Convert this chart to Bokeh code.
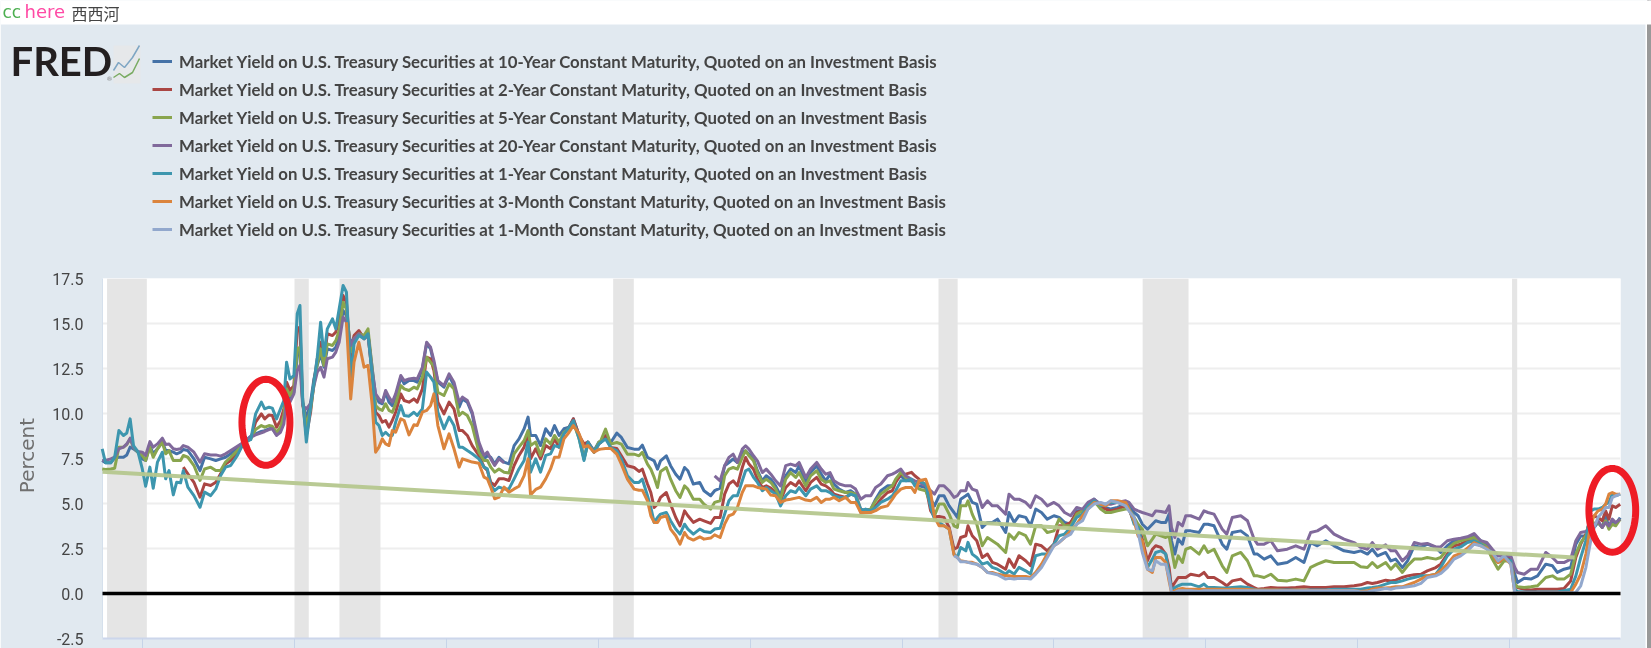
import numpy as np
from bokeh.embed import file_html
from bokeh.resources import INLINE
from bokeh.plotting import figure
from bokeh.models import (Range1d, FixedTicker, NumeralTickFormatter, Legend, LegendItem, Label,
                          BoxAnnotation, PolyAnnotation)

# ---------- data ----------
dates_a = [1973.67,1973.78,1973.95,1974.08,1974.22,1974.37,1974.48,1974.59,1974.70,1974.85,1974.99,1975.10,1975.24,1975.35,1975.49,1975.65,1975.76,1975.87,1976.01,1976.12,1976.25,1976.34,1976.49,1976.69,1976.89,1977.04,1977.24,1977.41,1977.57,1977.73,1977.90,1978.12,1978.34,1978.56,1978.72,1978.91,1979.02,1979.16,1979.27,1979.41,1979.54,1979.65,1979.74,1979.85,1979.98,1980.09,1980.18,1980.27,1980.39,1980.53,1980.64,1980.75,1980.86,1980.97,1981.08,1981.25,1981.36,1981.47,1981.60,1981.71]
y10_a = [7.39,7.26,7.26,7.52,7.57,7.57,7.70,8.13,8.04,7.85,7.48,7.39,8.22,7.76,8.04,8.41,7.94,7.94,7.85,7.76,7.85,8.0,7.94,7.48,6.83,7.57,7.48,7.39,7.48,7.57,7.76,8.13,8.41,8.74,8.87,9.0,9.05,9.15,9.18,8.81,9.15,9.7,11.0,10.81,11.18,13.22,13.5,10.63,9.7,10.63,11.92,12.67,13.31,12.57,13.59,13.5,13.68,14.24,15.72,15.44]
y2_a = [None]*21 + [7.02,6.65,6.18,5.35,6.09,6.0,6.18,6.65,7.2,7.39,7.76,8.41,8.59,9.52,9.98,9.70,9.92,9.89,9.24,9.61,10.26,11.74,11.28,11.55,14.70,14.80,10.63,8.78,10.07,11.74,13.04,13.96,12.85,14.43,14.33,14.52,15.26,16.55,16.18]
y5_a = [6.92,6.89,6.92,6.96,8.13,8.13,8.28,8.59,8.13,7.85,7.67,7.39,8.13,7.57,8.04,8.41,7.76,7.94,7.39,7.39,7.39,7.67,7.57,7.11,6.28,6.92,7.02,6.83,6.83,7.30,7.57,7.94,8.31,8.59,9.11,9.33,9.24,9.33,9.29,8.96,9.24,9.89,11.37,11.0,11.37,13.59,13.68,10.54,9.33,10.26,11.55,12.76,13.59,12.67,13.87,13.78,14.05,14.61,16.18,15.81]
y20_a = [7.39,7.39,7.48,7.57,8.04,8.13,8.31,8.63,8.13,7.89,7.85,7.67,8.44,8.13,8.31,8.63,8.28,8.31,8.04,8.0,8.04,8.22,8.13,7.85,7.30,7.76,7.70,7.70,7.63,7.76,7.94,8.18,8.41,8.68,8.81,8.92,9.0,9.11,9.15,8.78,8.96,9.42,10.72,10.63,11.09,12.39,12.67,10.44,10.26,10.54,11.55,12.30,12.57,12.02,13.04,13.13,13.41,13.96,15.35,15.07]
y1_a = [8.04,7.26,7.26,7.57,9.05,8.78,8.92,9.70,8.22,7.85,6.92,5.96,7.02,5.85,7.30,7.85,6.37,6.83,5.48,6.18,6.15,6.83,5.91,5.44,4.79,5.63,5.44,5.81,6.55,7.02,7.11,7.67,8.41,8.55,9.98,10.63,10.26,10.35,10.30,9.70,10.26,10.72,12.85,11.92,12.11,15.54,16.0,10.81,8.41,10.35,11.74,13.13,15.07,13.22,14.70,15.26,14.70,15.81,17.11,16.74]
y3m_a = [None]*59 + [15.07]
y1m_a = [None]*60

dates_b = [1981.85,1981.96,1982.12,1982.29,1982.42,1982.56,1982.67,1982.78,1982.89,1983.00,1983.11,1983.22,1983.33,1983.50,1983.61,1983.77,1983.93,1984.04,1984.21,1984.35,1984.48,1984.59,1984.72,1984.92,1985.09,1985.25,1985.42,1985.53,1985.69,1985.85,1986.07,1986.24,1986.35,1986.46,1986.59,1986.73,1986.90,1987.06,1987.23,1987.39,1987.56,1987.69,1987.77,1987.94,1988.10,1988.27,1988.43,1988.56,1988.71,1988.87,1989.04,1989.18,1989.37,1989.53,1989.66,1989.86,1990.02]
y10_b = [13.78,14.24,14.52,14.24,14.43,12.48,11.0,10.63,10.54,11.18,10.63,10.44,10.91,12.02,11.65,11.83,11.83,11.74,12.48,13.87,13.59,12.76,11.74,11.46,12.11,11.55,10.35,10.81,10.63,9.98,8.04,7.48,7.67,7.57,7.20,7.57,7.30,7.20,8.22,8.59,9.15,9.80,8.78,8.78,8.22,9.15,8.78,9.33,8.78,9.15,9.24,9.70,8.78,7.48,8.41,7.94,8.41]
y2_b = [13.04,14.33,14.61,14.15,14.43,12.11,10.07,9.89,9.52,9.61,9.24,9.61,10.07,11.09,10.72,10.63,10.81,10.63,11.37,13.13,13.04,12.39,10.63,9.98,10.63,10.26,9.05,9.05,8.78,8.22,7.67,7.02,6.83,6.18,6.0,6.37,6.37,6.28,7.11,7.67,8.13,8.96,7.48,8.04,7.48,8.22,8.04,8.59,8.13,8.87,9.24,9.70,8.78,8.31,8.41,7.85,8.31]
y5_b = [13.41,14.15,14.43,14.33,14.70,12.48,10.44,10.26,10.17,10.54,10.17,10.07,10.54,11.55,11.37,11.28,11.46,11.37,12.02,13.13,12.85,12.63,11.18,11.0,11.65,11.37,9.89,10.07,9.89,9.33,7.85,7.39,7.39,7.02,6.74,6.92,6.74,6.70,7.76,8.13,8.50,9.05,8.22,8.41,7.67,8.59,8.31,8.78,8.41,8.96,9.15,9.52,8.59,7.48,8.31,7.85,8.41]
y20_b = [13.78,14.15,14.43,14.15,14.33,12.30,11.09,10.81,10.63,11.28,10.91,10.63,11.09,12.11,11.83,11.92,11.96,11.92,12.57,13.96,13.68,12.94,11.83,11.55,12.2,11.74,10.63,10.91,10.72,10.07,8.41,7.67,7.85,7.48,7.11,7.48,7.26] + [None]*20
y1_b = [11.92,13.87,14.33,14.15,14.43,12.11,9.52,9.33,8.78,8.96,8.78,8.78,9.52,10.44,9.89,9.85,10.07,9.89,10.26,12.30,12.02,11.74,10.07,9.15,9.80,9.33,8.13,8.13,7.94,7.76,7.48,7.02,6.92,6.0,5.72,5.91,5.81,5.81,6.37,6.92,7.39,8.41,6.74,7.48,6.74,7.67,7.76,8.22,8.13,8.87,9.24,9.61,8.59,7.39,8.41,7.85,8.31]
y3m_b = [10.81,12.85,13.96,12.57,12.67,10.44,7.85,8.13,8.59,8.31,8.22,9.05,8.96,9.70,9.61,8.81,9.37,9.33,10.07,10.17,10.44,11.09,9.33,8.04,8.87,8.04,7.02,7.48,7.39,7.30,7.24,6.46,6.37,5.91,5.26,5.35,5.91,5.63,5.81,5.96,6.55,7.48,5.48,5.78,5.91,6.37,6.92,7.57,7.57,8.59,8.96,9.33,8.87,8.13,8.22,7.85,8.0]
y1m_b = [None]*57

dates_c = [1990.08,1990.24,1990.41,1990.61,1990.76,1990.96,1991.18,1991.34,1991.45,1991.62,1991.73,1991.84,1991.95,1992.05,1992.24,1992.38,1992.55,1992.69,1992.84,1992.95,1993.13,1993.34,1993.48,1993.70,1993.83,1994.01,1994.16,1994.30,1994.44,1994.58,1994.74,1994.85,1994.96,1995.11,1995.24,1995.40,1995.53,1995.68,1995.84,1996.00,1996.17,1996.33,1996.50,1996.61,1996.83,1996.99,1997.19,1997.34,1997.49,1997.63,1997.76,1997.93,1998.14]
y10_c = [8.39,8.76,8.39,8.91,8.67,8.11,8.02,8.02,8.24,7.56,7.47,7.37,6.91,7.37,7.65,7.10,6.63,6.35,7.0,6.82,6.08,6.17,5.71,5.43,5.71,5.85,7.10,7.28,7.47,7.28,7.84,7.93,7.74,7.47,6.82,6.26,6.54,6.35,5.98,5.43,6.54,6.91,6.72,7.10,6.17,6.72,7.10,6.63,6.26,6.63,6.08,5.80,5.61]
y2_c = [8.39,8.76,8.11,8.06,7.65,7.10,7.0,6.78,6.91,6.08,5.61,4.78,4.96,5.34,5.61,4.96,4.22,3.76,4.59,4.32,3.95,4.13,4.04,3.89,4.22,4.22,5.52,6.08,6.26,5.98,7.0,7.56,7.19,6.91,6.35,5.89,5.98,5.85,5.61,5.15,5.89,6.17,5.98,6.26,5.71,6.17,6.45,6.08,5.98,5.80,5.52,5.43,5.34]
y5_c = [8.48,9.13,8.3,8.39,8.3,7.74,7.74,7.65,7.84,7.19,6.91,6.45,5.89,6.78,7.0,6.35,5.71,5.34,5.98,5.8,5.24,5.24,4.96,4.69,5.06,5.15,6.54,6.91,7.0,6.91,7.56,7.93,7.65,7.37,6.72,6.17,6.35,6.17,5.8,5.24,6.35,6.72,6.45,6.72,5.98,6.54,6.82,6.35,6.17,6.26,5.8,5.71,5.61]
y20_c = [None]*24 + [6.54,6.26,7.10,7.56,7.74,7.28,8.02,8.21,8.02,7.65,7.37,6.72,6.91,6.63,6.26,5.98,7.10,7.19,7.10,7.28,6.45,6.91,7.28,6.91,6.63,6.72,6.26,6.08,5.98]
y1_c = [8.39,8.58,8.11,7.93,7.47,6.54,6.17,6.17,6.35,5.43,4.78,3.95,4.22,4.41,4.5,4.04,3.58,3.3,3.85,3.58,3.3,3.58,3.45,3.39,3.58,3.63,4.41,5.15,5.43,5.43,6.26,6.82,6.91,6.45,6.17,5.71,5.89,5.71,5.52,4.87,5.43,5.71,5.61,5.89,5.43,5.8,5.98,5.71,5.71,5.61,5.43,5.34,5.34]
y3m_c = [8.02,8.06,8.06,7.74,7.19,6.35,5.8,5.74,5.74,5.15,4.32,3.95,3.95,4.22,4.32,3.58,3.21,2.74,3.39,3.11,2.97,3.15,3.02,3.08,3.26,3.11,3.85,4.32,4.41,4.78,5.61,5.98,5.98,5.98,5.89,5.85,5.8,5.47,5.43,5.06,5.19,5.24,5.3,5.34,5.19,5.15,5.34,5.06,5.24,5.24,5.34,5.15,5.34]
y1m_c = [None]*53

dates_d = [1998.31,1998.47,1998.64,1998.80,1998.97,1999.13,1999.30,1999.52,1999.68,1999.79,1999.96,2000.12,2000.31,2000.42,2000.56,2000.78,2000.94,2001.07,2001.22,2001.38,2001.55,2001.71,2001.82,2001.93,2002.10,2002.17,2002.31,2002.46,2002.64,2002.81,2002.97,2003.14,2003.41,2003.52,2003.69,2003.85,2004.07,2004.23,2004.40,2004.59,2004.78,2005.00,2005.17,2005.35,2005.55,2005.75,2005.94,2006.12,2006.32]
y10_d = [5.71,5.52,4.69,4.6,4.69,5.24,5.71,5.98,5.98,6.26,6.54,6.26,6.26,6.08,5.98,5.89,5.24,4.87,5.43,5.43,4.87,4.5,4.23,5.24,5.43,5.52,5.06,4.97,3.67,3.95,3.95,4.13,3.39,4.5,3.95,4.32,4.23,3.76,4.69,4.5,4.13,4.32,4.23,3.95,3.85,4.6,4.6,4.87,5.24]
y2_d = [5.52,5.43,4.5,4.6,4.69,4.87,5.24,5.61,5.71,6.17,6.63,6.63,6.73,6.54,6.35,5.98,4.6,4.26,4.28,4.23,3.67,2.47,2.56,3.11,3.21,3.76,3.21,2.93,2.0,2.19,1.73,1.63,1.35,1.91,1.45,2.1,1.82,1.54,2.74,2.65,2.37,2.74,3.76,3.76,3.95,4.5,4.6,4.87,5.15]
y5_d = [5.61,5.52,4.6,4.6,4.69,5.15,5.52,5.8,5.98,6.35,6.73,6.45,6.26,6.08,5.8,5.71,4.97,4.32,4.97,4.97,4.41,3.76,3.67,4.87,4.87,5.15,4.41,3.85,2.65,3.11,2.93,2.74,2.28,3.3,3.02,3.39,3.21,2.74,3.76,3.76,3.39,3.48,4.13,3.76,3.76,4.41,4.6,4.87,5.15]
y20_d = [5.98,5.8,5.24,5.43,5.43,5.89,6.08,6.54,6.63,6.73,6.91,6.54,6.35,6.26,6.17,5.98,5.71,5.52,5.98,5.98,5.71,5.34,5.43,5.71,5.71,6.17,5.8,5.71,4.78,5.15,4.87,4.87,4.41,5.52,5.24,5.24,5.06,4.78,5.43,5.24,4.87,5.06,4.87,4.5,4.32,4.78,4.69,5.06,5.24]
y1_d = [5.52,5.43,4.6,4.69,4.6,4.78,5.06,5.24,5.43,5.71,6.26,6.26,6.35,5.98,6.26,6.08,4.78,4.13,3.95,3.76,3.58,2.19,2.0,2.56,2.37,2.84,2.19,2.0,1.63,1.73,1.45,1.35,1.08,1.26,1.08,1.45,1.26,1.08,2.1,2.19,2.19,2.74,3.21,3.3,3.67,4.23,4.41,4.87,5.15]
y3m_d = [5.06,5.06,4.5,4.5,4.5,4.6,4.78,4.87,5.24,5.52,5.8,5.89,5.89,5.61,6.26,6.35,5.61,4.23,3.76,3.76,3.58,2.15,2.0,1.82,1.76,1.73,1.73,1.63,1.45,1.17,1.17,1.08,.98,.98,.95,.95,.95,.89,1.17,1.63,2.19,2.65,2.84,3.11,3.48,3.85,4.32,4.69,5.06]
y1m_d = [None]*21 + [2.1,2.0,1.76,1.76,1.73,1.67,1.63,1.45,1.17,1.11,1.04,.8,.84,.8,.84,.84,.8,1.08,1.45,2.0,2.65,2.84,3.11,3.3,3.85,4.04,4.69,4.97]

dates_e = [2006.54,2006.70,2006.87,2007.09,2007.36,2007.47,2007.64,2007.77,2007.91,2008.08,2008.24,2008.35,2008.52,2008.68,2008.79,2008.87,2008.98,2009.09,2009.23,2009.34,2009.50,2009.78,2009.94,2010.07,2010.27,2010.54,2010.69,2010.87,2011.15,2011.37,2011.59,2011.70,2011.92,2012.14,2012.36,2012.68,2012.96,2013.23,2013.45,2013.67,2013.95,2014.22,2014.55,2014.88]
y10_e = [4.87,4.78,4.69,4.78,4.96,4.87,4.5,4.32,3.85,3.57,3.85,4.04,3.95,3.95,4.41,2.93,2.19,3.02,2.74,3.48,3.48,3.39,3.85,3.85,3.76,2.74,2.46,3.39,3.48,3.2,2.19,2.19,1.91,2.09,1.63,1.72,2.0,1.72,2.83,2.65,2.93,2.65,2.37,2.28]
y2_e = [4.78,4.69,4.59,4.69,4.87,4.69,3.95,3.76,3.02,1.82,2.46,2.65,2.56,2.19,1.45,.33,.61,.89,.89,.89,1.07,.98,1.17,.89,.89,.61,.43,.7,.8,.52,.33,.24,.28,.33,.3,.3,.33,.37,.33,.33,.33,.37,.37,.43]
y5_e = [4.69,4.5,4.5,4.59,4.69,4.69,4.22,3.85,3.57,2.65,3.02,3.3,3.2,3.11,3.2,2.46,1.45,2.09,1.72,2.46,2.56,2.19,2.65,2.28,2.46,1.54,1.17,2.09,2.28,1.82,.98,.98,.89,1.07,.74,.7,.8,.7,1.45,1.63,1.82,1.72,1.72,1.72]
y20_e = [4.96,4.96,4.96,5.06,5.15,5.06,4.69,4.59,4.5,4.41,4.32,4.59,4.56,4.5,4.87,3.67,3.11,3.95,3.76,4.32,4.32,4.13,4.59,4.5,4.41,3.57,3.3,4.22,4.32,4.04,3.02,2.74,2.74,2.93,2.37,2.46,2.65,2.46,3.39,3.48,3.76,3.3,3.02,2.83]
y1_e = [4.87,4.96,5.06,5.06,4.96,4.78,3.85,3.67,2.74,1.45,1.91,2.28,2.37,2.19,1.07,.19,.33,.43,.52,.52,.52,.37,.52,.33,.33,.3,.3,.33,.37,.33,.24,.2,.2,.2,.19,.19,.2,.2,.19,.19,.2,.24,.24,.24]
y3m_e = [4.96,4.87,5.15,5.15,5.06,4.69,4.04,3.2,2.93,1.35,1.17,2.0,2.0,1.72,.7,.06,.15,.24,.28,.24,.24,.24,.24,.24,.24,.24,.22,.24,.24,.22,.2,.19,.19,.19,.19,.17,.19,.19,.17,.17,.17,.17,.17,.17]
y1m_e = [5.06,4.96,5.15,5.06,4.87,4.59,4.22,3.39,2.28,1.35,1.26,1.82,1.63,1.63,.89,.06,.06,.15,.15,.15,.15,.11,.15,.15,.15,.15,.15,.15,.15,.15,.15,.15,.15,.15,.15,.15,.15,.15,.15,.15,.15,.15,.15,.15]

dates_f = [2015.10,2015.32,2015.48,2015.65,2015.92,2016.09,2016.25,2016.47,2016.64,2016.86,2017.08,2017.29,2017.57,2017.73,2017.95,2018.17,2018.39,2018.61,2018.83,2019.05,2019.25,2019.43,2019.62,2019.82,2020.04,2020.17,2020.26,2020.48,2020.70,2020.92,2021.19,2021.41,2021.57,2021.79,2022.01,2022.18,2022.34,2022.51,2022.67,2022.78,2022.91,2023.05,2023.16,2023.27,2023.38,2023.49,2023.64]
y10_f = [2.37,2.19,2.46,2.09,2.28,1.81,1.91,1.44,1.81,2.65,2.56,2.74,2.56,2.28,2.65,2.93,3.02,3.07,3.2,2.93,2.65,2.19,1.81,1.91,2.0,1.07,.61,.85,.8,.98,1.63,1.54,1.17,1.35,1.44,2.74,3.2,3.2,4.31,3.67,3.94,3.67,4.31,3.67,4.04,3.85,4.22]
y2_f = [.48,.61,.56,.61,.74,.7,.74,.89,.98,1.04,1.07,1.26,1.44,1.63,2.19,2.65,2.74,2.93,2.93,2.74,2.52,2.09,1.72,1.91,2.0,.52,.33,.24,.2,.24,.24,.24,.24,.28,.7,2.0,2.74,3.3,4.13,4.31,4.22,4.04,4.59,4.13,4.87,4.78,4.96]
y5_f = [1.48,1.44,1.72,1.44,1.72,1.35,1.63,1.17,1.54,1.91,1.91,2.0,1.91,2.0,2.46,2.78,2.93,3.02,3.11,2.83,2.59,1.91,1.35,1.81,1.81,.52,.37,.33,.37,.43,.89,.98,.8,.8,1.07,2.19,2.83,3.2,4.22,3.85,3.94,3.67,4.04,3.57,3.85,3.76,4.13]
y20_f = [2.56,2.46,2.83,2.46,2.7,2.37,2.37,1.81,2.09,2.83,2.74,2.78,2.59,2.59,2.93,3.02,3.07,3.15,3.33,2.93,2.83,2.46,2.09,2.09,2.09,1.44,1.17,1.07,1.35,1.35,2.28,2.0,1.72,1.72,1.91,2.93,3.39,3.44,3.67,3.76,4.04,3.67,3.94,3.76,4.13,3.94,4.13]
y1_f = [.24,.3,.33,.37,.52,.61,.61,.7,.8,.89,.98,.98,1.07,1.44,2.09,2.46,2.59,2.83,2.93,2.74,2.52,2.19,1.81,2.0,1.81,.24,.11,.09,.09,.09,.09,.09,.09,.15,.24,.98,2.0,2.93,4.59,4.69,4.69,4.78,4.96,5.06,5.52,5.43,5.52]
y3m_f = [.11,.15,.24,.3,.3,.33,.37,.37,.48,.61,.8,.98,1.07,1.26,1.63,2.09,2.22,2.52,2.83,2.65,2.52,2.19,1.72,2.0,1.63,.06,.04,.04,.04,.04,.04,.04,.04,.04,.06,.52,1.07,2.19,3.85,4.31,4.59,4.69,4.96,5.52,5.61,5.52,5.52]
y1m_f = [.09,.09,.15,.19,.28,.24,.3,.33,.37,.43,.56,.89,.98,1.11,1.44,1.91,2.09,2.37,2.74,2.65,2.46,2.28,1.81,2.09,1.63,.06,.04,.04,.04,.04,.04,.04,.04,.04,.04,.06,.43,1.44,2.93,3.67,4.22,4.5,4.78,4.78,5.33,5.43,5.52]

recession_start = [1973.83, 1980.00, 1981.48, 1990.49, 2001.20, 2007.92, 2020.08]
recession_end   = [1975.14, 1980.47, 1982.83, 1991.17, 2001.83, 2009.43, 2020.25]
trend_years = [1973.68, 2022.14]
trend_values = [6.76, 2.00]
x_ticks = [1975, 1980, 1985, 1990, 1995, 2000, 2005, 2010, 2015, 2020]
y_ticks = [-2.5, 0, 2.5, 5, 7.5, 10, 12.5, 15, 17.5]

dates = dates_a + dates_b + dates_c + dates_d + dates_e + dates_f
series = [
    ("Market Yield on U.S. Treasury Securities at 10-Year Constant Maturity, Quoted on an Investment Basis", "#4572a7",
     y10_a + y10_b + y10_c + y10_d + y10_e + y10_f),
    ("Market Yield on U.S. Treasury Securities at 2-Year Constant Maturity, Quoted on an Investment Basis", "#aa4643",
     y2_a + y2_b + y2_c + y2_d + y2_e + y2_f),
    ("Market Yield on U.S. Treasury Securities at 5-Year Constant Maturity, Quoted on an Investment Basis", "#89a54e",
     y5_a + y5_b + y5_c + y5_d + y5_e + y5_f),
    ("Market Yield on U.S. Treasury Securities at 20-Year Constant Maturity, Quoted on an Investment Basis", "#80699b",
     y20_a + y20_b + y20_c + y20_d + y20_e + y20_f),
    ("Market Yield on U.S. Treasury Securities at 1-Year Constant Maturity, Quoted on an Investment Basis", "#3d96ae",
     y1_a + y1_b + y1_c + y1_d + y1_e + y1_f),
    ("Market Yield on U.S. Treasury Securities at 3-Month Constant Maturity, Quoted on an Investment Basis", "#db843d",
     y3m_a + y3m_b + y3m_c + y3m_d + y3m_e + y3m_f),
    ("Market Yield on U.S. Treasury Securities at 1-Month Constant Maturity, Quoted on an Investment Basis", "#92a8cd",
     y1m_a + y1m_b + y1m_c + y1m_d + y1m_e + y1m_f),
]
for name, _c, vals in series:
    assert len(vals) == len(dates), (name[40:60], len(vals), len(dates))

# ---------- layout constants ----------
W, H = 1651, 648
L, R, T, B = 102, 1620, 278, 638          # plot frame in page pixels
X0, X1, Y0, Y1 = 1973.68, 2023.65, -2.5, 17.5
PANEL = "#e1e9f0"
PLACE = {"position": "fixed", "left": "0", "top": "0"}

# ---------- base figure: panel, axes, grid, recession bands ----------
p = figure(width=W, height=H, output_backend="svg", toolbar_location=None,
           x_range=Range1d(X0, X1), y_range=Range1d(Y0, Y1),
           min_border_left=L, min_border_right=W - R, min_border_top=T, min_border_bottom=H - B,
           border_fill_color=PANEL, background_fill_color="white", outline_line_color=None,
           styles=PLACE)
p.xgrid.visible = False
p.ygrid.ticker = FixedTicker(ticks=y_ticks)
p.ygrid.grid_line_color = "#eeeeee"
p.ygrid.grid_line_width = 2

p.xaxis.ticker = FixedTicker(ticks=x_ticks)
p.xaxis.major_label_overrides = {t: "" for t in x_ticks}
p.xaxis.major_label_standoff = 0
p.xaxis.major_tick_out = 10
p.xaxis.major_tick_in = 0
p.xaxis.major_tick_line_color = "#c6d4e8"
p.xaxis.minor_tick_line_color = None
p.xaxis.axis_line_color = "#ccd6eb"
p.xaxis.axis_line_width = 2

p.yaxis.ticker = FixedTicker(ticks=y_ticks)
p.yaxis.formatter = NumeralTickFormatter(format="0.0")
p.yaxis.major_tick_line_color = None
p.yaxis.minor_tick_line_color = None
p.yaxis.axis_line_color = "#d5e0ec"
p.yaxis.major_label_standoff = 13
p.yaxis.major_label_text_font = "Roboto"
p.yaxis.major_label_text_font_size = "16px"
p.yaxis.major_label_text_color = "#444444"

p.quad(left=recession_start, right=recession_end, bottom=Y0, top=Y1,
       fill_color="#e5e5e5", line_color=None)

# ---------- overlay figure: same data scale, frame spanning the whole page ----------
sx = (X1 - X0) / (R - L)
sy = (Y1 - Y0) / (B - T)
XA, XB = X0 - L * sx, X1 + (W - R) * sx
YA, YB = Y0 - (H - B) * sy, Y1 + T * sy
q = figure(width=W, height=H, output_backend="svg", toolbar_location=None,
           x_range=Range1d(XA, XB), y_range=Range1d(YA, YB),
           x_axis_location=None, y_axis_location=None,
           min_border=0, min_border_left=0, min_border_right=0, min_border_top=0, min_border_bottom=0,
           border_fill_alpha=0, background_fill_alpha=0, outline_line_color=None,
           styles=PLACE)
q.grid.visible = False

years = np.array(dates, dtype=float)
items = []
for name, color, vals in series:
    r = q.line(years, np.array(vals, dtype=float), line_color=color, line_width=3, line_join="round")
    items.append(LegendItem(label=name, renderers=[r]))

q.line([X0, X1], [0, 0], line_color="black", line_width=3.5)
q.line(trend_years, trend_values, line_color="#b5c78e", line_width=4, line_alpha=0.95)

def ring(cx, cy, rx, ry):
    t = np.linspace(0, 2 * np.pi, 73)
    return list(cx + rx * np.cos(t)), list(cy + ry * np.sin(t))

for cx, cy, rx, ry in [(1979.06, 9.51, 0.79, 2.39), (2023.38, 4.62, 0.77, 2.33)]:
    xs, ys = ring(cx, cy, rx, ry)
    q.add_layout(PolyAnnotation(xs=xs, ys=ys, xs_units="data", ys_units="data",
                                fill_alpha=0, line_color="#ee1c25", line_alpha=1, line_width=7, level="overlay"))

legend = Legend(items=items, location=(152, H - 243), orientation="vertical",
                glyph_width=20, glyph_height=28, label_height=28, label_standoff=7, spacing=0,
                padding=0, margin=0, background_fill_alpha=0, border_line_alpha=0,
                label_text_font="Lato", label_text_font_size="16.8px",
                label_text_color="#444444", label_text_font_style="bold")
q.add_layout(legend, "center")

box = dict(left_units="canvas", right_units="canvas", top_units="canvas", bottom_units="canvas",
           line_color=None, fill_alpha=1, level="overlay", editable=False)
q.add_layout(BoxAnnotation(left=0, right=W, top=0, bottom=24, fill_color="white", **box))
q.add_layout(BoxAnnotation(left=113, right=140, top=45, bottom=83, fill_color="#e6e8ea", **box))

# right window edge: white gap, dark line, grey scrollbar strip
q.quad(left=[XA + 1645 * sx, XA + 1647 * sx, XA + 1648 * sx], right=[XA + W * sx, XA + 1648 * sx, XA + W * sx],
       bottom=[YA] * 3, top=[YB] * 3, fill_color=["white", "#333333", "#999999"], line_color=None, level="overlay")

def canvas_label(text, x, y, **kw):
    q.add_layout(Label(text=text, x=x, y=y, x_units="canvas", y_units="canvas", level="overlay", **kw))

canvas_label("cc", 2, 11, text_font="DejaVu Sans", text_font_size="17px", text_color="#4caf50", text_baseline="middle")
canvas_label("here", 24, 11, text_font="DejaVu Sans", text_font_size="18px", text_color="#ff4aa5", text_baseline="middle")
canvas_label("西西河", 71, 12, text_font="Noto Sans CJK SC", text_font_size="16px", text_color="#444444", text_baseline="middle")
canvas_label("FRED", 10, 60, text_font="Lato", text_font_size="40px", text_font_style="bold",
             text_color="#231f20", text_baseline="alphabetic")
canvas_label("®", 106, 78, text_font="DejaVu Sans", text_font_size="6px", text_color="#777777", text_baseline="alphabetic")
canvas_label("Percent", 26, 455, angle=np.pi / 2, text_align="center", text_font="DejaVu Sans", text_font_size="20px",
             text_color="#707070", text_baseline="alphabetic")

for px, py, col in [([113, 118, 124, 132, 139], [70, 62, 67, 57, 45], "#7fa6c4"),
                    ([113, 119, 124, 132, 139], [77, 73, 77, 72, 58], "#79ab62")]:
    q.add_layout(PolyAnnotation(xs=px + px[::-1], ys=py + py[::-1], xs_units="canvas", ys_units="canvas",
                                fill_alpha=0, line_color=col, line_alpha=1, line_width=1.5, level="overlay"))

open("out.html", "w").write(file_html([p, q], INLINE))
